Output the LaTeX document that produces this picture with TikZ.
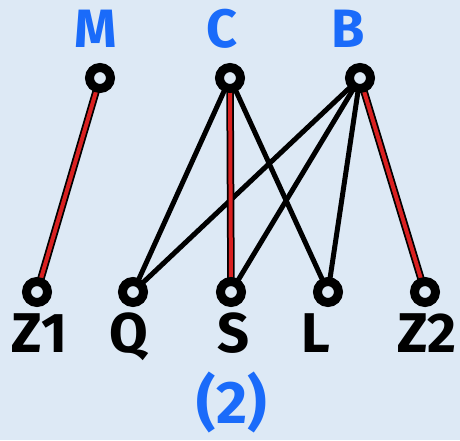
\documentclass[tikz,border=0pt]{standalone}
\usepackage{fontspec}
\setmainfont{Fira Sans}
\definecolor{bg}{HTML}{DDE9F5}
\definecolor{lblue}{HTML}{1A6BFA}
\definecolor{ered}{HTML}{D92020}
\begin{document}
\begin{tikzpicture}[x=1pt,y=-1pt,
  vert/.style={circle,draw=black,line width=9pt,minimum size=21pt,inner sep=0pt,fill=bg},
  toplbl/.style={text=lblue,font=\fontsize{54}{54}\selectfont\bfseries,inner sep=0pt,anchor=base},
  botlbl/.style={text=black,font=\fontsize{56}{56}\selectfont\bfseries,inner sep=0pt,anchor=base},
  edge/.style={line width=5pt,black},
  redout/.style={line width=7.5pt,black},
  redin/.style={line width=4pt,ered}]
\fill[bg] (0,0) rectangle (460,440);
\useasboundingbox (0,0) rectangle (460,440);
\coordinate (pM) at (100,78);
\coordinate (pC) at (230,78);
\coordinate (pB) at (360,78);
\coordinate (pZ1) at (37,292);
\coordinate (pQ) at (133,292);
\coordinate (pS) at (231,292);
\coordinate (pL) at (328,292);
\coordinate (pZ2) at (425,292);
\draw[edge] (pC) -- (pQ);
\draw[edge] (pC) -- (pL);
\draw[edge] (pB) -- (pQ);
\draw[edge] (pB) -- (pS);
\draw[edge] (pB) -- (pL);
\draw[redout] (pM) -- (pZ1);
\draw[redout] (pC) -- (pS);
\draw[redout] (pB) -- (pZ2);
\draw[redin] (pM) -- (pZ1);
\draw[redin] (pC) -- (pS);
\draw[redin] (pB) -- (pZ2);
\node[vert] (M) at (pM) {};
\node[vert] (C) at (pC) {};
\node[vert] (B) at (pB) {};
\node[vert] (Z1) at (pZ1) {};
\node[vert] (Q) at (pQ) {};
\node[vert] (S) at (pS) {};
\node[vert] (L) at (pL) {};
\node[vert] (Z2) at (pZ2) {};
\node[toplbl] (lM) at (96,47) {M};
\node[toplbl] (lC) at (222,47) {C};
\node[toplbl] (lB) at (348,47) {B};
\node[botlbl] (lZ1) at (39.5,352) {Z1};
\node[botlbl] (lQ) at (129,352) {Q};
\node[botlbl] (lS) at (233.5,352) {S};
\node[botlbl] (lL) at (316,352) {L};
\node[botlbl] (lZ2) at (427,352) {Z2};
\node[text=lblue,font=\fontsize{60}{60}\selectfont\bfseries,inner sep=0pt,anchor=base] (cap) at (232,423) {(2)};
\end{tikzpicture}
\end{document}
